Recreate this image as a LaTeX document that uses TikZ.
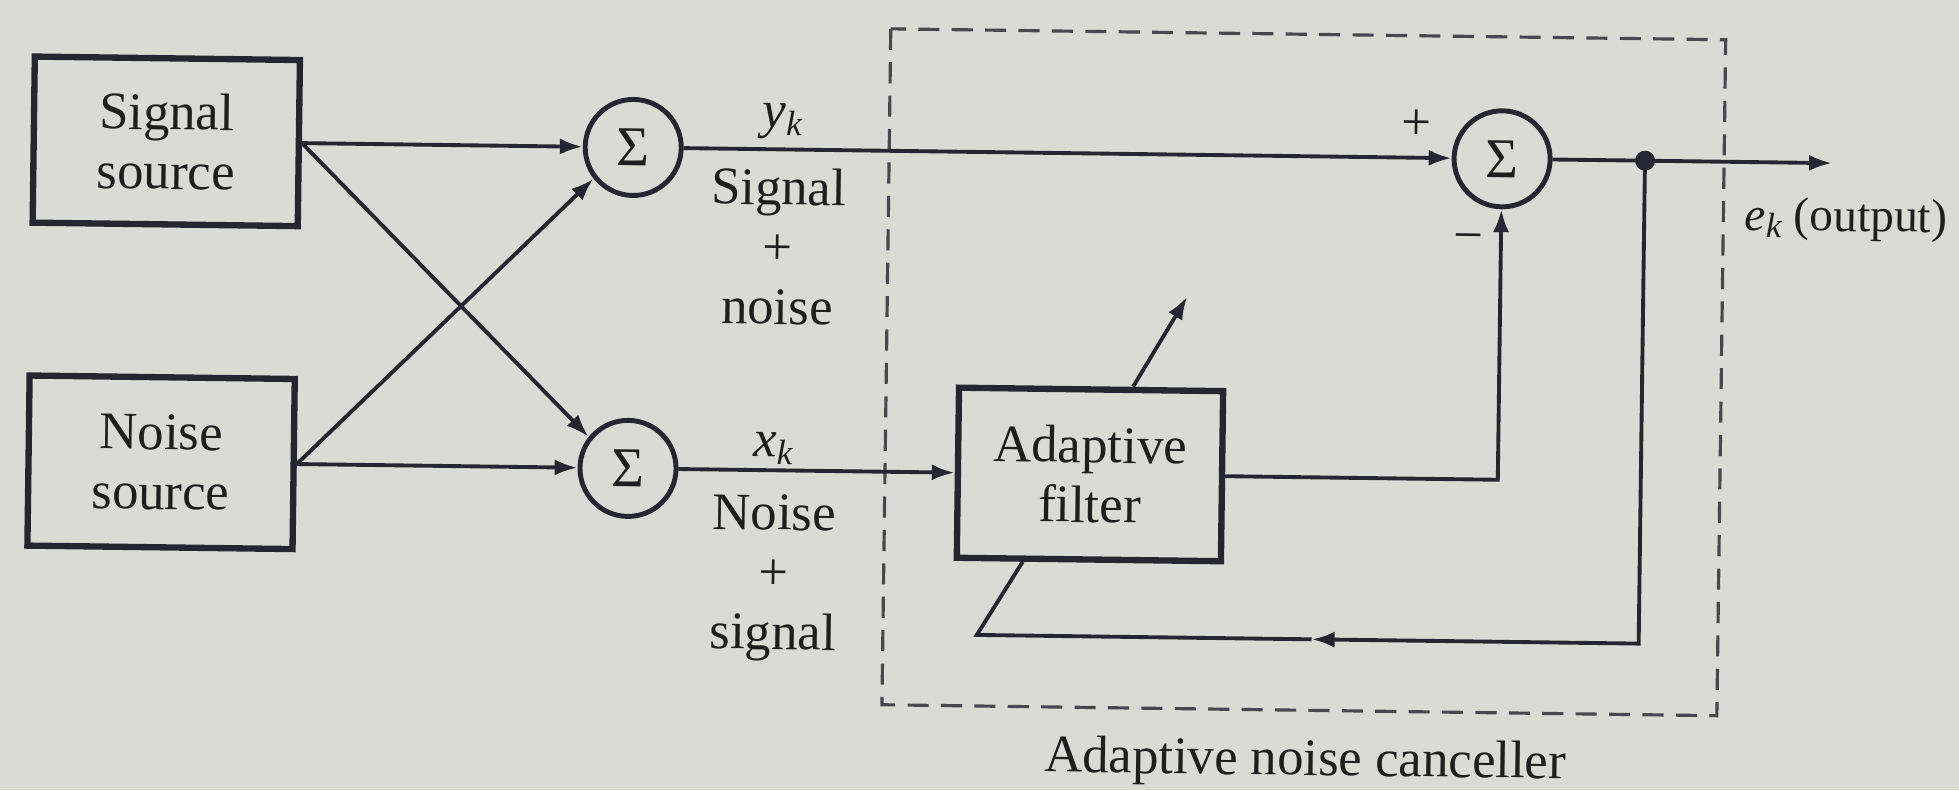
\documentclass[tikz,border=0pt]{standalone}
\usepackage{fontspec}
\setmainfont{Liberation Serif}
\usetikzlibrary{arrows.meta}
\definecolor{bgc}{RGB}{219,219,214}
\definecolor{ink}{RGB}{38,38,50}
\definecolor{txt}{RGB}{30,30,30}
\newcommand{\subvar}[2]{\textit{#1}\raisebox{-0.35ex}{\fontsize{10}{10}\selectfont\textit{#2}}}
\begin{document}
\begin{tikzpicture}[x=0.01cm,y=-0.01cm,
  every node/.style={font=\fontsize{15}{17}\selectfont, text=txt},
  blk/.style={draw=ink, line width=1.8pt, align=center, inner sep=0pt},
  sumnode/.style={draw=ink, circle, line width=1.4pt, minimum size=0.96cm, inner sep=0pt, font=\fontsize{16}{16}\selectfont},
  wire/.style={draw=ink, line width=1.1pt},
  arr/.style={wire, -{Latex[length=6.5pt,width=4.6pt]}},
  lbl/.style={inner sep=0pt, align=center},
  dotnode/.style={circle, fill=ink, minimum size=0.2cm, inner sep=0pt},
  dashbox/.style={draw=ink!85, line width=0.9pt, dash pattern=on 6pt off 3.5pt}]
\fill[bgc] (0,0) rectangle (1959,790);
\useasboundingbox (0,0) rectangle (1959,790);
\begin{scope}[rotate around={-0.75:(980,395)}, transform shape]
  % dashed enclosure
  \draw[dashbox] (886,30) rectangle (1721,706);
  % blocks
  \node[blk, minimum width=2.65cm, minimum height=1.66cm] (sig) at (163,152) {Signal\\source};
  \node[blk, minimum width=2.65cm, minimum height=1.70cm] (noi) at (162,473) {Noise\\source};
  \node[sumnode] (s1) at (630,152) {Σ};
  \node[sumnode] (s2) at (629,473) {Σ};
  \node[sumnode] (s3) at (1499,152) {Σ};
  \node[blk, minimum width=2.64cm, minimum height=1.70cm] (filt) at (1091,473) {Adaptive\\filter};
  \node[dotnode] (dot) at (1642,152) {};
  \coordinate (out) at (1829,152);
  \coordinate (fbm) at (1315,635);
  \coordinate (fbl) at (980,635);
  \coordinate (adtip) at (1186,294);
  % labels
  \node[lbl, anchor=base] (yk) at (779,130) {\subvar{y}{k}};
  \node[lbl, anchor=north] (spn) at (776,170) {Signal\\+\\noise};
  \node[lbl, anchor=base] (xk) at (774,459) {\subvar{x}{k}};
  \node[lbl, anchor=north] (nps) at (776,497) {Noise\\+\\signal};
  \node[lbl] (plus) at (1413,119) {+};
  \node[lbl] (minus) at (1466,237) {−};
  \node[lbl, anchor=base west, font=\fontsize{13.5}{16}\selectfont] (ek) at (1742,220) {\subvar{e}{k} (output)};
  \node[lbl, anchor=base] (anc) at (1310,771) {Adaptive noise canceller};
  % connectors
  \draw[arr] (sig.east) -- (s1.west);
  \draw[arr] (sig.east) -- (s2.142);
  \draw[arr] (noi.east) -- (s1.219);
  \draw[arr] (noi.east) -- (s2.west);
  \draw[arr] (s1.east) -- (s3.west);
  \draw[arr] (s2.east) -- (filt.west);
  \draw[arr] (filt.east) -| (s3.south);
  \draw[arr] (s3.east) -- (out);
  \draw[arr] (dot.center) |- (fbm);
  \draw[wire] (fbm) -- (fbl) -- ([xshift=-0.66cm]filt.south);
  \draw[arr] ([xshift=0.42cm]filt.north) -- (adtip);
\end{scope}
\end{tikzpicture}
\end{document}
